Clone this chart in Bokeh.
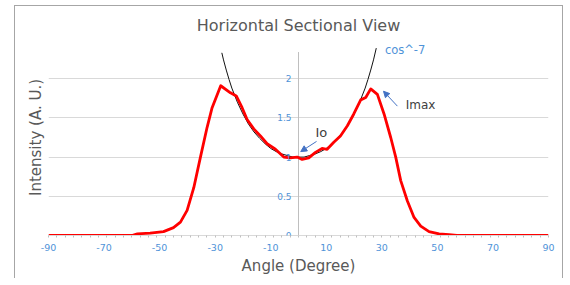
from bokeh.plotting import figure
from bokeh.models import (Range1d, FixedTicker, ColumnDataSource, LabelSet, Label,
                          Arrow, NormalHead)
from bokeh.core.properties import value
from bokeh.embed import file_html
from bokeh.resources import INLINE

# ---- data ----
red_angle = [-90, -60, -58, -53.4, -48.6, -45, -42.5, -40.1, -37.7, -35.3, -32.9, -31.1,
             -28, -24.5, -22.4, -20.3, -18.5, -16.1, -13.7, -11.3, -8.3, -5.3, -2.9, -0.5,
             1.3, 3.7, 6.1, 8.5, 10.3, 12.7, 15.1, 17.6, 19.9, 22.4, 24.2, 26.0, 28.4,
             30.8, 33.2, 35.0, 36.8, 39.2, 41.6, 44.0, 47.0, 50.6, 54.2, 57, 90]
red_intensity = [0, 0, 0.02, 0.03, 0.05, 0.10, 0.17, 0.32, 0.61, 1.0, 1.38, 1.63,
                 1.91, 1.82, 1.78, 1.63, 1.48, 1.36, 1.27, 1.17, 1.10, 1.00, 0.99, 1.00,
                 0.97, 0.99, 1.06, 1.11, 1.10, 1.19, 1.27, 1.40, 1.55, 1.73, 1.76, 1.87, 1.80,
                 1.55, 1.25, 1.0, 0.70, 0.44, 0.23, 0.12, 0.05, 0.02, 0.01, 0, 0]

cos_angle = [-27.6, -27, -26, -25, -24, -22, -20, -18, -16, -14, -12, -10, -8, -6, -4, -2,
             0, 2, 4, 6, 8, 10, 12, 14, 16, 18, 20, 22, 24, 25, 26, 27, 28]
cos_intensity = [2.33, 2.24, 2.11, 1.99, 1.88, 1.70, 1.55, 1.42, 1.32, 1.24, 1.17, 1.11,
                 1.07, 1.04, 1.02, 1.00, 1.00, 1.00, 1.02, 1.04, 1.07, 1.11, 1.17, 1.24,
                 1.32, 1.42, 1.55, 1.70, 1.88, 1.99, 2.11, 2.24, 2.39]

x_ticks = [-90, -70, -50, -30, -10, 10, 30, 50, 70, 90]
x_tick_labels = ["-90", "-70", "-50", "-30", "-10", "10", "30", "50", "70", "90"]
y_ticks = [0, 0.5, 1, 1.5, 2]
y_tick_labels = ["0", "0.5", "1", "1.5", "2"]

FONT = "DejaVu Sans"
BLUE = "#4F93D8"
GRAY = "#595959"
GRID = "#D9D9D9"

p = figure(width=549, height=273, output_backend="svg", toolbar_location=None,
           x_range=Range1d(-90, 90), y_range=Range1d(0, 2.5),
           min_border_left=33, min_border_right=16, min_border_top=33, min_border_bottom=44,
           background_fill_color="white", border_fill_color="white")
p.styles = {"border-left": "1px solid #A6A6A6", "border-top": "1px solid #A6A6A6",
            "border-right": "1px solid #A6A6A6", "margin-left": "14px", "margin-top": "5px"}
p.outline_line_color = None

p.title.text = "Horizontal Sectional View"
p.title.align = "center"
p.title.text_font = FONT
p.title.text_font_size = "16px"
p.title.text_font_style = "normal"
p.title.text_color = GRAY
p.title.standoff = 10

# x axis
p.xaxis.ticker = FixedTicker(ticks=x_ticks, minor_ticks=list(range(-90, 91, 3)))
p.xaxis.major_label_overrides = dict(zip(x_ticks, x_tick_labels))
p.xaxis.axis_line_color = GRID
p.xaxis.major_tick_line_color = None
p.xaxis.major_tick_out = 0
p.xaxis.major_tick_in = 0
p.xaxis.minor_tick_line_color = "#BFBFBF"
p.xaxis.minor_tick_out = 2
p.xaxis.minor_tick_in = 0
p.xaxis.major_label_standoff = 6
p.xaxis.major_label_text_font = FONT
p.xaxis.major_label_text_font_size = "9.5px"
p.xaxis.major_label_text_color = BLUE
p.xaxis.axis_label = "Angle (Degree)"
p.xaxis.axis_label_text_font = FONT
p.xaxis.axis_label_text_font_size = "15px"
p.xaxis.axis_label_text_font_style = "normal"
p.xaxis.axis_label_text_color = GRAY
p.xaxis.axis_label_standoff = 3

# left axis: title only
p.yaxis.ticker = FixedTicker(ticks=[])
p.yaxis.axis_line_color = None
p.yaxis.major_tick_line_color = None
p.yaxis.minor_tick_line_color = None
p.yaxis.axis_label = "Intensity (A. U.)"
p.yaxis.axis_label_text_font = FONT
p.yaxis.axis_label_text_font_size = "15px"
p.yaxis.axis_label_text_font_style = "normal"
p.yaxis.axis_label_text_color = GRAY
p.yaxis.axis_label_standoff = 4

p.xgrid.visible = False
p.ygrid.ticker = FixedTicker(ticks=y_ticks)
p.ygrid.grid_line_color = GRID

# central vertical axis
p.line(x=[0, 0], y=[0, 2.34], line_color="#BFBFBF", line_width=1)
ysrc = ColumnDataSource(dict(x=[0] * len(y_ticks), y=y_ticks, t=y_tick_labels))
p.add_layout(LabelSet(x="x", y="y", text="t", source=ysrc, x_offset=-7,
                      text_align="right", text_baseline="middle",
                      text_font=value(FONT), text_font_size="9px", text_color=BLUE))

# curves
p.line(cos_angle, cos_intensity, line_color="#111111", line_width=1)
p.line(red_angle, red_intensity, line_color="#FF0000", line_width=2.8, line_join="round")

# annotations
p.add_layout(Label(x=31.1, y=2.37, text="cos^-7", text_baseline="middle",
                   text_font=FONT, text_font_size="11.5px", text_color=BLUE))
p.add_layout(Label(x=8.2, y=1.32, text="Io", text_align="center", text_baseline="middle",
                   text_font=FONT, text_font_size="13px", text_color="#404040"))
p.add_layout(Label(x=38.6, y=1.67, text="Imax", text_baseline="middle",
                   text_font=FONT, text_font_size="12px", text_color="#404040"))
arrow_color = "#4472C4"
p.add_layout(Arrow(end=NormalHead(size=6, fill_color=arrow_color, line_color=arrow_color),
                   x_start=6.5, y_start=1.2, x_end=0.8, y_end=1.07,
                   line_color=arrow_color, line_width=1))
p.add_layout(Arrow(end=NormalHead(size=6, fill_color=arrow_color, line_color=arrow_color),
                   x_start=35.6, y_start=1.65, x_end=30.6, y_end=1.84,
                   line_color=arrow_color, line_width=1))

open("out.html", "w").write(file_html(p, INLINE))
